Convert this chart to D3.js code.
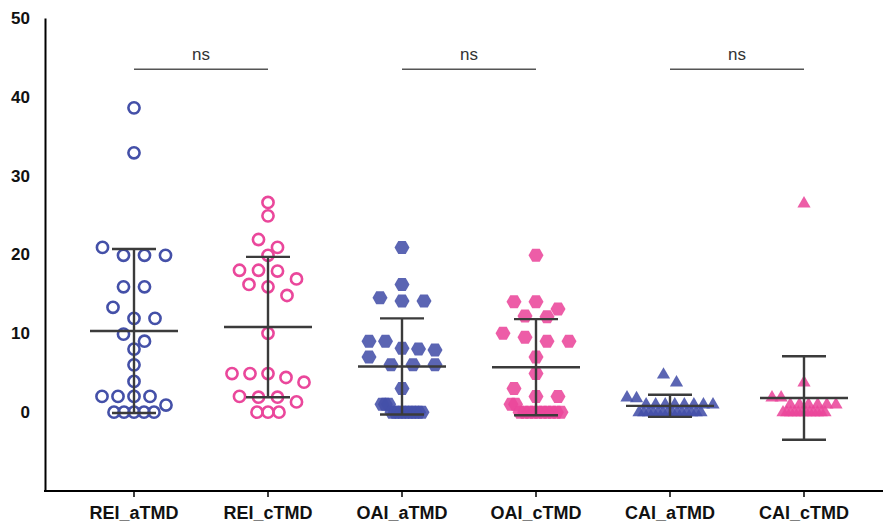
<!DOCTYPE html>
<html>
<head>
<meta charset="utf-8">
<script src="https://cdn.jsdelivr.net/npm/d3@7"></script>
<style>
  html, body { margin: 0; padding: 0; background: #ffffff; }
  svg { display: block; }
</style>
</head>
<body>
<svg id="chart" width="883" height="523"></svg>
<script>
// ---------------- data ----------------
const categories = ["REI_aTMD", "REI_cTMD", "OAI_aTMD", "OAI_cTMD", "CAI_aTMD", "CAI_cTMD"];

const reiA = [38.6, 32.9, 20.9, 19.9, 19.9, 19.9, 15.9, 15.9, 13.3, 11.9, 11.9, 9.9, 9.0, 8.0, 6.0, 3.9, 2.0, 2.0, 2.0, 2.0, 0.9, 0, 0, 0, 0, 0];
const reiC = [26.6, 24.9, 21.9, 20.9, 19.9, 18.0, 18.0, 17.9, 16.9, 16.2, 15.9, 14.8, 10.0, 4.9, 4.9, 4.9, 4.4, 3.8, 2.0, 1.9, 1.9, 1.3, 0, 0, 0];
const oaiA = [20.9, 16.2, 14.5, 14.1, 14.1, 9.0, 9.0, 8.1, 8.0, 7.9, 7.0, 6.0, 6.0, 6.0, 3.0, 1.0, 1.0, 1.0, 0, 0, 0, 0, 0, 0, 0, 0, 0, 0];
const oaiC = [19.9, 14.0, 14.0, 13.1, 12.2, 12.1, 10.0, 9.5, 9.0, 9.0, 7.0, 4.9, 3.0, 2.0, 2.0, 1.0, 1.0, 0, 0, 0, 0, 0, 0, 0, 0, 0, 0];
const caiA = [4.8, 3.8, 1.9, 1.8, 1, 1, 1, 1, 1, 1, 1, 1, 0, 0, 0, 0, 0, 0, 0, 0, 0, 0, 0, 0, 0, 0];
const caiC = [26.5, 3.8, 1.9, 1.9, 1, 1, 1, 1, 1, 1, 0, 0, 0, 0, 0, 0, 0, 0, 0, 0, 0, 0];

const groupMeans = [10.3, 10.8, 5.8, 5.7, 0.8, 1.8];
const groupSDs   = [10.4, 8.9, 6.1, 6.1, 1.4, 5.3];

const yTicks = [0, 10, 20, 30, 40, 50];
const yDomain = [-10, 50];

const compareFrom  = ["REI_aTMD", "OAI_aTMD", "CAI_aTMD"];
const compareTo    = ["REI_cTMD", "OAI_cTMD", "CAI_cTMD"];
const compareLabel = ["ns", "ns", "ns"];
const compareLevel = 43.5;

// ---------------- layout & styles ----------------
const groupSeries = [reiA, reiC, oaiA, oaiC, caiA, caiC];
const BLUE = "#4450a8", PINK = "#ea479b";
const markerStyle = [
  { shape: "circle",   color: BLUE, spacing: 21, maxSpan: 64, bottomSpan: 40 },
  { shape: "circle",   color: PINK, spacing: 19, maxSpan: 72, bottomSpan: 22 },
  { shape: "hexagon",  color: BLUE, spacing: 22, maxSpan: 66, bottomSpan: 40 },
  { shape: "hexagon",  color: PINK, spacing: 22, maxSpan: 70, bottomSpan: 50 },
  { shape: "triangle", color: BLUE, spacing: 13, maxSpan: 86, bottomSpan: 62 },
  { shape: "triangle", color: PINK, spacing: 13, maxSpan: 64, bottomSpan: 42 }
];

const svg = d3.select("#chart");
const axisLeftX = 45;
const step = 134;
const x = d3.scalePoint().domain(categories)
  .range([axisLeftX + 89, axisLeftX + 89 + step * (categories.length - 1)]);
const y = d3.scaleLinear().domain(yDomain).range([491, 18]);

const FONT = "'Liberation Sans', Arial, Helvetica, sans-serif";
const NARROW = "'Liberation Sans Narrow', 'Liberation Sans', Arial, sans-serif";

// ---------------- axes ----------------
const yAxis = d3.axisLeft(y).tickValues(yTicks).tickSize(0).tickPadding(15).tickFormat(d3.format("d"));
const gy = svg.append("g").attr("transform", `translate(${axisLeftX},0)`).call(yAxis);
gy.select(".domain").attr("stroke", "#000").attr("stroke-width", 2);
gy.selectAll("text").attr("font-family", FONT).attr("font-weight", "bold")
  .attr("font-size", 17).attr("fill", "#111");

svg.append("line")
  .attr("x1", axisLeftX - 1).attr("x2", 883)
  .attr("y1", y(yDomain[0])).attr("y2", y(yDomain[0]))
  .attr("stroke", "#000").attr("stroke-width", 2);

const xTicks = svg.append("g").selectAll("g").data(categories).join("g")
  .attr("transform", d => `translate(${x(d)},${y(yDomain[0])})`);
xTicks.append("line").attr("y1", 0).attr("y2", 6).attr("stroke", "#000").attr("stroke-width", 1.5);
xTicks.append("text").attr("y", 28).attr("text-anchor", "middle")
  .attr("font-family", NARROW).attr("font-weight", "bold").attr("font-size", 18)
  .attr("fill", "#111").text(d => d);

// ---------------- swarm layout (row based, centred) ----------------
function swarm(values, style) {
  const pts = values.map(v => ({ v, py: y(v) })).sort((a, b) => b.v - a.v);
  const rows = [];
  let cur = null;
  pts.forEach(p => {
    if (cur && Math.abs(p.py - cur[0].py) < 13) cur.push(p);
    else { cur = [p]; rows.push(cur); }
  });
  rows.forEach((r, ri) => {
    const n = r.length;
    const span = ri === rows.length - 1 ? style.bottomSpan : style.maxSpan;
    const s = n > 1 ? Math.min(style.spacing, span / (n - 1)) : 0;
    r.forEach((p, i) => { p.dx = (i - (n - 1) / 2) * s; });
  });
  return pts;
}

function hexPath(R) {
  return d3.range(6).map(i => {
    const a = Math.PI / 3 * i;
    return [R * Math.cos(a), R * Math.sin(a)];
  });
}
const hexPts = hexPath(7.5);
const hexD = "M" + hexPts.map(p => p.join(",")).join("L") + "Z";
const triD = "M0,-7.2L6.6,4.2L-6.6,4.2Z";

// ---------------- points ----------------
categories.forEach((cat, gi) => {
  const st = markerStyle[gi];
  const pts = swarm(groupSeries[gi], st);
  const g = svg.append("g").attr("class", "pts");
  if (st.shape === "circle") {
    g.selectAll("circle").data(pts).join("circle")
      .attr("cx", d => x(cat) + d.dx).attr("cy", d => d.py).attr("r", 5.6)
      .attr("fill", "none").attr("stroke", st.color).attr("stroke-width", 2.6);
  } else {
    g.selectAll("path").data(pts).join("path")
      .attr("d", st.shape === "hexagon" ? hexD : triD)
      .attr("transform", d => `translate(${x(cat) + d.dx},${d.py})`)
      .attr("fill", st.color).attr("fill-opacity", 0.88);
  }
});

// ---------------- mean & SD bars ----------------
const bars = svg.append("g").attr("stroke", "#3b3b3b").attr("stroke-width", 2.4);
categories.forEach((cat, gi) => {
  const cx = x(cat), m = groupMeans[gi], sd = groupSDs[gi];
  bars.append("line").attr("x1", cx - 44).attr("x2", cx + 44).attr("y1", y(m)).attr("y2", y(m));
  bars.append("line").attr("x1", cx).attr("x2", cx).attr("y1", y(m + sd)).attr("y2", y(m - sd));
  bars.append("line").attr("x1", cx - 22).attr("x2", cx + 22).attr("y1", y(m + sd)).attr("y2", y(m + sd));
  bars.append("line").attr("x1", cx - 22).attr("x2", cx + 22).attr("y1", y(m - sd)).attr("y2", y(m - sd));
});

// ---------------- significance annotations ----------------
compareFrom.forEach((a, i) => {
  const b = compareTo[i];
  const ly = y(compareLevel);
  svg.append("line").attr("x1", x(a)).attr("x2", x(b)).attr("y1", ly).attr("y2", ly)
    .attr("stroke", "#555").attr("stroke-width", 1.5);
  svg.append("text").attr("x", (x(a) + x(b)) / 2).attr("y", ly - 9)
    .attr("text-anchor", "middle").attr("font-family", FONT).attr("font-size", 17)
    .attr("fill", "#333").text(compareLabel[i]);
});
</script>
</body>
</html>
